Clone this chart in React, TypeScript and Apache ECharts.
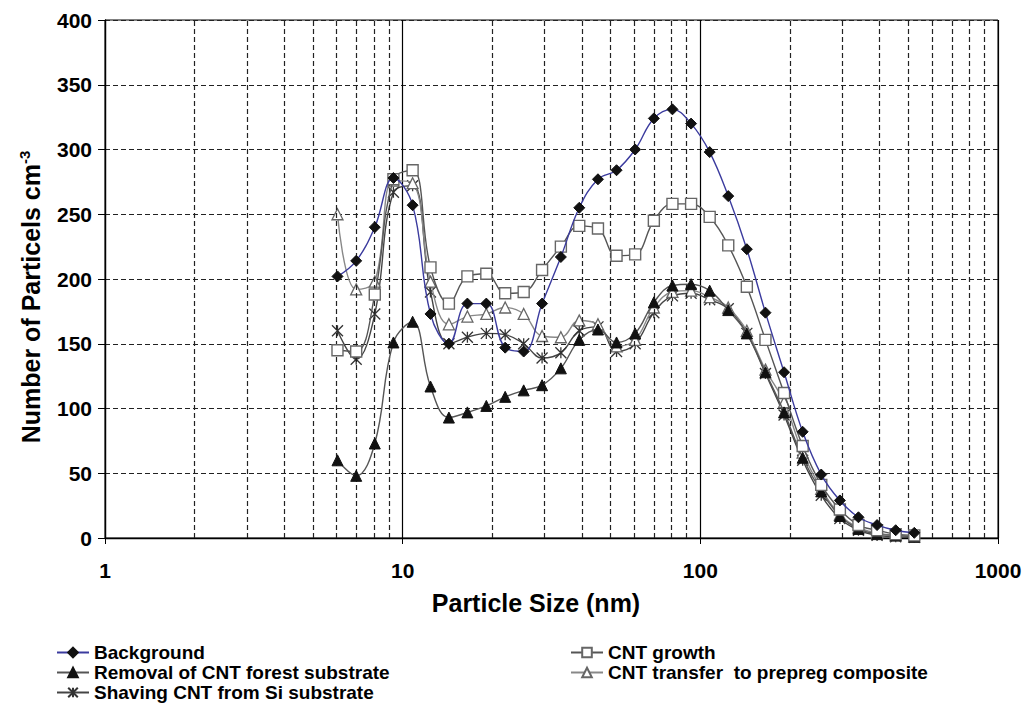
import React, { useEffect, useRef } from "react";
import * as echarts from "echarts";

const sizes = [6.04, 6.98, 8.06, 9.31, 10.8, 12.4, 14.3, 16.5, 19.1, 22.1, 25.5, 29.4, 34.0, 39.2, 45.3, 52.3, 60.4, 69.8, 80.6, 93.1, 107.5, 124.1, 143.3, 165.5, 191.1, 220.7, 254.8, 294.3, 339.8, 392.4, 453.2, 523.3];

const background = [202, 214, 240, 278, 257, 173, 150, 181, 181, 147, 144, 181, 217, 255, 277, 284, 300, 324, 331, 320, 298, 264, 223, 174, 128, 82, 49, 29, 16, 10, 6, 4];
const cntGrowth = [145, 144, 188, 277, 284, 209, 181, 202, 204, 189, 190, 207, 225, 241, 239, 218, 219, 245, 258, 258, 248, 226, 194, 153, 112, 71, 41, 22, 10, 6, 3, 2];
const removal = [60, 48, 73, 151, 167, 117, 93, 97, 102, 109, 114, 118, 131, 153, 161, 151, 158, 182, 195, 196, 191, 176, 158, 128, 97, 62, 36, 17, 7, 3, 2, 1];
const transfer = [250, 192, 198, 276, 274, 198, 165, 171, 173, 178, 173, 156, 155, 168, 165, 148, 153, 178, 190, 191, 186, 178, 160, 130, 105, 66, 38, 18, 8, 4, 2, 1];
const shaving = [160, 138, 173, 267, 272, 190, 150, 155, 158, 157, 150, 139, 143, 160, 163, 144, 150, 174, 187, 189, 184, 177, 158, 127, 95, 60, 33, 15, 6, 2, 1, 0.5];

const minorGrid = [2, 3, 4, 5, 6, 7, 8, 9, 20, 30, 40, 50, 60, 70, 80, 90, 200, 300, 400, 500, 600, 700, 800, 900];
const xTicks = [1, 10, 100, 1000];

const names = {
  bg: "Background",
  growth: "CNT growth",
  removal: "Removal of CNT forest substrate",
  transfer: "CNT transfer  to prepreg composite",
  shaving: "Shaving CNT from Si substrate",
};

const FONT = "'Liberation Sans', Arial, sans-serif";
const pair = (arr: number[]) => sizes.map((s, i) => [s, arr[i]]);

export default function App() {
  const ref = useRef<HTMLDivElement>(null);
  useEffect(() => {
    document.body.style.margin = "0";
    const chart = echarts.init(ref.current!, null, { renderer: "svg" });
    const textBase = { fontFamily: FONT, fontWeight: "bold" as const, color: "#000" };
    const legendItem = (name: string, left: number, top: number) => ({
      orient: "vertical",
      left,
      top,
      padding: 0,
      itemWidth: 32,
      itemHeight: 12,
      itemGap: 0,
      data: [name],
      textStyle: { ...textBase, fontSize: 19, lineHeight: 19 },
    });
    chart.setOption({
      animation: false,
      backgroundColor: "#fff",
      grid: { left: 105, right: 27, top: 20, bottom: 166, show: true, borderColor: "#000", borderWidth: 1, backgroundColor: "transparent" },
      xAxis: {
        type: "log",
        logBase: 10,
        min: 1,
        max: 1000,
        name: "Particle Size (nm)",
        nameLocation: "middle",
        nameGap: 52,
        nameTextStyle: { ...textBase, fontSize: 25, padding: [0, 31, 0, 0] },
        axisLine: { lineStyle: { color: "#000", width: 1.3 } },
        axisTick: { show: true, length: 6, inside: false, lineStyle: { color: "#000" } },
        axisLabel: {
          ...textBase,
          fontSize: 21,
          margin: 22,
          formatter: (v: number) => (xTicks.includes(Math.round(v)) ? String(Math.round(v)) : ""),
        },
        splitLine: { show: true, lineStyle: { color: "#000", width: 1.2, type: "solid" } },
      },
      yAxis: {
        type: "value",
        min: 0,
        max: 400,
        interval: 50,
        name: "{a|Number of Particels cm}{s|-3}",
        nameLocation: "middle",
        nameGap: 60,
        nameRotate: 90,
        nameTextStyle: {
          ...textBase,
          fontSize: 25,
          padding: [0, 36, 0, 0],
          rich: {
            a: { ...textBase, fontSize: 25 },
            s: { ...textBase, fontSize: 15, padding: [0, 0, 13, 0] },
          },
        },
        axisLine: { show: true, lineStyle: { color: "#000", width: 1.3 } },
        axisTick: { show: true, length: 7, lineStyle: { color: "#000" } },
        axisLabel: { ...textBase, fontSize: 21, margin: 13 },
        splitLine: { show: true, lineStyle: { color: "#222", width: 1.2, type: [5, 3] } },
      },
      legend: [
        legendItem(names.bg, 56, 643),
        legendItem(names.removal, 56, 663),
        legendItem(names.shaving, 56, 683),
        legendItem(names.growth, 570, 643),
        legendItem(names.transfer, 570, 663),
      ],
      series: [
        {
          type: "line",
          name: "minor",
          data: [],
          silent: true,
          markLine: {
            silent: true,
            symbol: ["none", "none"],
            label: { show: false },
            lineStyle: { color: "#222", width: 1.2, type: [5, 3] },
            data: minorGrid.map((v) => ({ xAxis: v })),
          },
        },
        {
          type: "line",
          name: names.shaving,
          data: pair(shaving),
          smooth: 0.4,
          symbol: "path://M0,0L10,10M10,0L0,10M5,0L5,10",
          symbolSize: 11,
          lineStyle: { color: "#444", width: 1.4 },
          itemStyle: { color: "transparent", borderColor: "#333", borderWidth: 1.3 },
          z: 3,
        },
        {
          type: "line",
          name: names.transfer,
          data: pair(transfer),
          smooth: 0.4,
          symbol: "triangle",
          symbolSize: 11,
          lineStyle: { color: "#888", width: 1.4 },
          itemStyle: { color: "#fff", borderColor: "#666", borderWidth: 1.3 },
          z: 4,
        },
        {
          type: "line",
          name: names.removal,
          data: pair(removal),
          smooth: 0.4,
          symbol: "triangle",
          symbolSize: 11,
          lineStyle: { color: "#555", width: 1.4 },
          itemStyle: { color: "#111", borderColor: "#111", borderWidth: 1 },
          z: 5,
        },
        {
          type: "line",
          name: names.growth,
          data: pair(cntGrowth),
          smooth: 0.4,
          symbol: "rect",
          symbolSize: 11,
          lineStyle: { color: "#555", width: 1.4 },
          itemStyle: { color: "#fff", borderColor: "#666", borderWidth: 1.4 },
          z: 6,
        },
        {
          type: "line",
          name: names.bg,
          data: pair(background),
          smooth: 0.4,
          symbol: "diamond",
          symbolSize: 11,
          lineStyle: { color: "#3b3b9e", width: 1.4 },
          itemStyle: { color: "#111", borderColor: "#111", borderWidth: 1 },
          z: 7,
        },
      ],
    });
    return () => chart.dispose();
  }, []);
  return <div ref={ref} style={{ width: 1025, height: 704 }} />;
}
